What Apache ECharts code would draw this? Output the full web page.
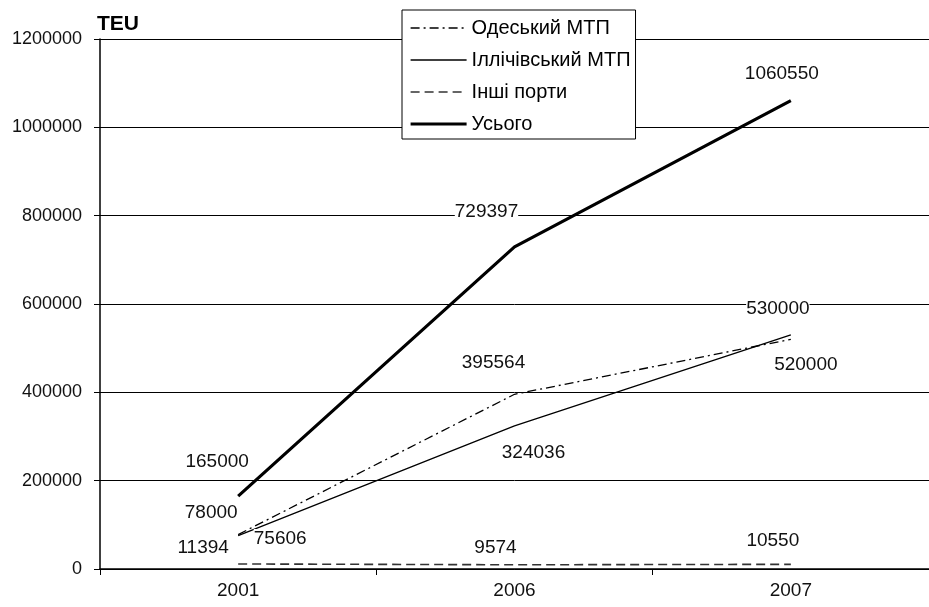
<!DOCTYPE html>
<html>
<head>
<meta charset="utf-8">
<script src="https://cdn.jsdelivr.net/npm/echarts@6/dist/echarts.min.js"></script>
<style>
  html, body { margin: 0; padding: 0; background: #fff; }
  #chart { width: 929px; height: 607px; }
</style>
</head>
<body>
<div id="chart"></div>
<script>
// роки
const years = ["2001", "2006", "2007"];

// контейнерообіг, TEU
const odesaValues = [78000, 395564, 520000];
const illichivskValues = [75606, 324036, 530000];
const otherValues = [11394, 9574, 10550];
const totalValues = [165000, 729397, 1060550];

const seriesNames = ["Одеський МТП", "Іллічівський МТП", "Інші порти", "Усього"];

// зсув підписів відносно точки
const labelOffsets = {
  odesa: [[-27, -22], [-21, -32], [15, 25]],
  illichivsk: [[42, 3], [19, 27], [-13, -26]],
  other: [[-35, -16], [-19, -17], [-18, -24]],
  total: [[-21, -34], [-28, -35], [-9, -27]],
};

const font = "'Liberation Sans', Arial, sans-serif";

const chart = echarts.init(document.getElementById("chart"));

const withLabels = (values, offsets) =>
  values.map((v, i) => ({
    value: v,
    label: { offset: offsets[i] },
  }));

const baseSeries = {
  type: "line",
  symbol: "circle",
  symbolSize: 0,
  showSymbol: true,
  animation: false,
  label: {
    show: true,
    position: "inside",
    color: "#111",
    fontSize: 19,
    fontFamily: font,
    backgroundColor: "#fff",
  },
};

const styles = [
  { color: "#000", width: 1.3, type: [9, 4, 2, 4] },
  { color: "#000", width: 1.3, type: "solid" },
  { color: "#333", width: 1.6, type: [9, 5] },
  { color: "#000", width: 3.2, type: "solid" },
];

chart.setOption({
  title: {
    text: "TEU",
    left: 92,
    top: 9,
    textStyle: { fontFamily: font, fontSize: 21, fontWeight: "bold", color: "#000" },
  },
  grid: { left: 100, right: -6, top: 39, bottom: 38 },
  legend: {
    orient: "vertical",
    left: 402,
    top: 10,
    padding: [8, 5, 5, 7],
    itemWidth: 56,
    itemHeight: 16,
    itemGap: 12,
    itemTextGap: 6,
    backgroundColor: "#fff",
    borderColor: "#000",
    borderWidth: 1,
    borderRadius: 0,
    itemStyle: { opacity: 0 },
    textStyle: { fontFamily: font, fontSize: 20, color: "#000" },
    data: seriesNames.map((name, i) => ({
      name,
      lineStyle: { width: styles[i].width, type: styles[i].type, color: styles[i].color },
    })),
  },
  xAxis: {
    type: "category",
    data: years,
    boundaryGap: true,
    axisLine: { lineStyle: { color: "#000", width: 1.5 } },
    axisTick: { show: true, length: 6, lineStyle: { color: "#000" } },
    axisLabel: { color: "#111", fontSize: 19, fontFamily: font, margin: 12 },
  },
  yAxis: {
    type: "value",
    min: 0,
    max: 1200000,
    interval: 200000,
    axisLine: { show: true, lineStyle: { color: "#000", width: 1.5 } },
    axisTick: { show: true, length: 6, lineStyle: { color: "#000" } },
    axisLabel: {
      color: "#111",
      fontSize: 18,
      fontFamily: font,
      margin: 18,
      formatter: (v) => String(v),
    },
    splitLine: { show: true, lineStyle: { color: "#000", width: 1 } },
  },
  series: [
    { ...baseSeries, name: seriesNames[0], data: withLabels(odesaValues, labelOffsets.odesa) },
    { ...baseSeries, name: seriesNames[1], data: withLabels(illichivskValues, labelOffsets.illichivsk) },
    { ...baseSeries, name: seriesNames[2], data: withLabels(otherValues, labelOffsets.other) },
    { ...baseSeries, name: seriesNames[3], data: withLabels(totalValues, labelOffsets.total) },
  ].map((s, i) => ({
    ...s,
    lineStyle: styles[i],
    itemStyle: { color: styles[i].color },
  })),
});
</script>
</body>
</html>
